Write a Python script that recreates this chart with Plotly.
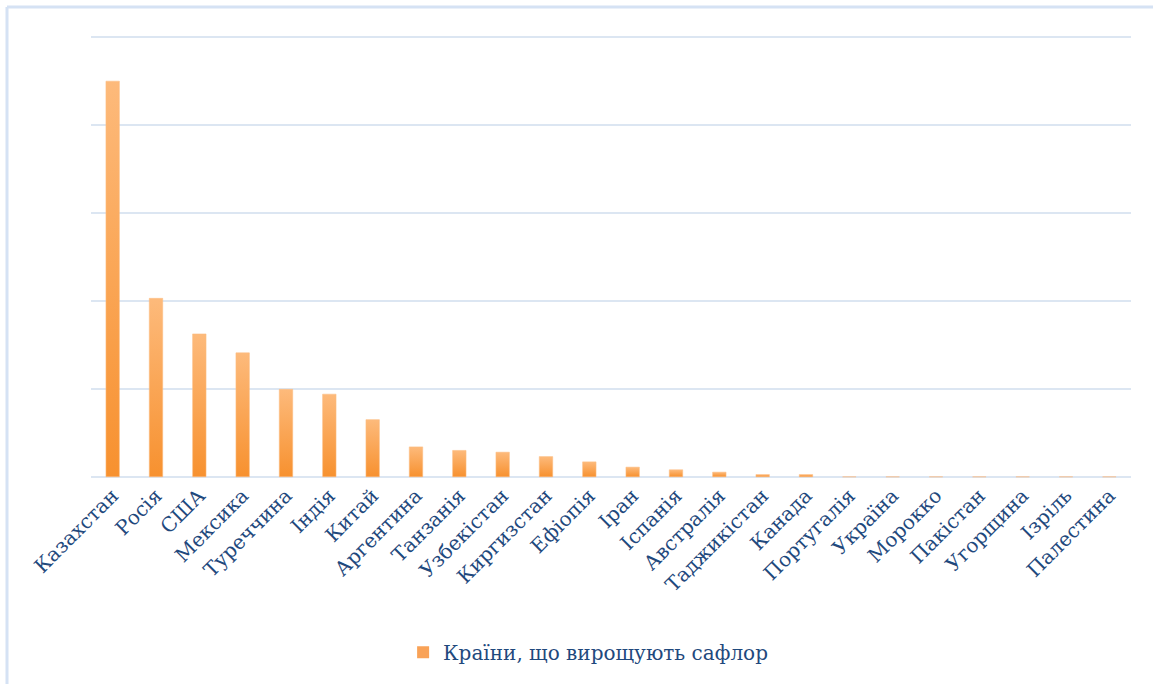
import plotly.graph_objects as go

countries = ["Казахстан", "Росія", "США", "Мексика", "Туреччина", "Індія", "Китай",
             "Аргентина", "Танзанія", "Узбекістан", "Киргизстан", "Ефіопія", "Іран",
             "Іспанія", "Австралія", "Таджикістан", "Канада", "Португалія", "Україна",
             "Морокко", "Пакістан", "Угорщина", "Ізріль", "Палестина"]
values = [4.50, 2.03, 1.625, 1.41, 0.995, 0.94, 0.65, 0.34, 0.30, 0.28, 0.23, 0.17,
          0.11, 0.08, 0.053, 0.026, 0.026, 0.006, 0.004, 0.004, 0.003, 0.003, 0.003, 0.003]
series_name = "Країни, що вирощують сафлор"

W, H = 1153, 684
L, R, T, B = 91, 22, 35, 205
half = 0.155
text_color = "#1f497d"
font_family = "DejaVu Serif"

fig = go.Figure()
for i, (c, v) in enumerate(zip(countries, values)):
    fig.add_trace(go.Scatter(
        x=[i - half, i + half, i + half, i - half, i - half],
        y=[0, 0, v, v, 0],
        mode="lines", line=dict(width=0.6, color="rgba(253,190,130,0.9)"),
        fill="toself",
        fillgradient=dict(type="vertical",
                          colorscale=[[0, "#f7912f"], [1, "#fdba7b"]]),
        showlegend=False, hoverinfo="skip"))

fig.add_trace(go.Scatter(x=[None], y=[None], mode="markers", name=series_name,
                         marker=dict(symbol="square", size=10, color="#f9a257")))

# frame
pw, ph = W - L - R, H - T - B
x0 = (7 - L) / pw
y0 = (H - B - 7) / ph
fig.add_shape(type="line", xref="paper", yref="paper", x0=x0, x1=x0, y0=y0, y1=-1,
              line=dict(color="#d5e2f4", width=3))
fig.add_shape(type="line", xref="paper", yref="paper", x0=x0, x1=1.1, y0=y0, y1=y0,
              line=dict(color="#d5e2f4", width=3))

fig.update_layout(
    width=W, height=H,
    margin=dict(l=L, r=R, t=T, b=B, autoexpand=False),
    paper_bgcolor="white", plot_bgcolor="white",
    xaxis=dict(range=[-0.5, len(countries) - 0.5], tickmode="array",
               tickvals=list(range(len(countries))), ticktext=countries,
               tickangle=-45, showgrid=False, zeroline=False, showline=False,
               ticks="", tickfont=dict(family=font_family, size=20, color=text_color)),
    yaxis=dict(range=[-0.025, 5.025], dtick=1, showticklabels=False, showgrid=True,
               gridcolor="#dce6f2", gridwidth=1.5, zeroline=False, showline=False,
               ticks=""),
    showlegend=True,
    legend=dict(orientation="h", x=0.478, xanchor="center", y=-0.39, yanchor="middle",
                font=dict(family=font_family, size=20, color=text_color),
                itemsizing="constant"),
)

fig.write_html("out.html")
